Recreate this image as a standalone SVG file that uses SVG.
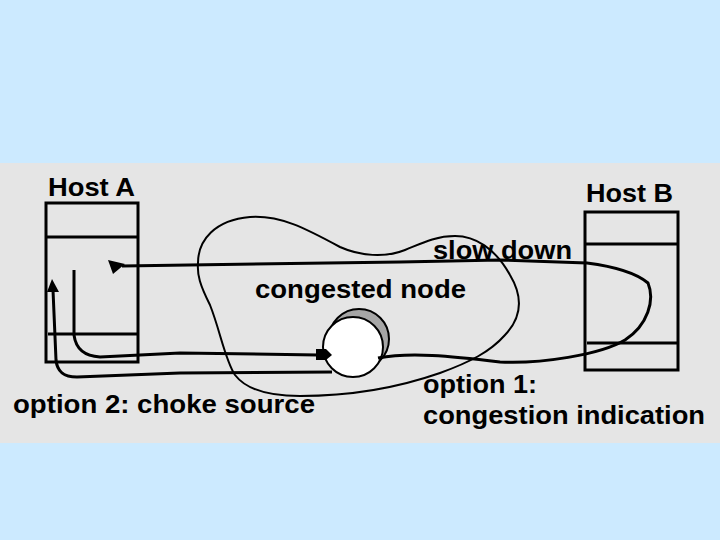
<svg xmlns="http://www.w3.org/2000/svg" width="720" height="540" viewBox="0 0 720 540">
<style>
.t{font-family:"Liberation Sans",Arial,sans-serif;font-weight:bold;font-size:25px;fill:#000}
.box{fill:none;stroke:#000;stroke-width:3}
.thin{fill:none;stroke:#000;stroke-width:2;stroke-linejoin:round}
.wire{fill:none;stroke:#000;stroke-width:3;stroke-linejoin:round}
</style>
<rect x="0" y="0" width="720" height="540" fill="#CCEAFF"/>
<rect x="0" y="163" width="720" height="280" fill="#E5E5E5"/>

<g id="cloud">
<path class="thin" d="M 198 263 C 198 240, 215 220, 250 217 C 280 215, 305 228, 340 247 C 360 256, 385 258, 405 250 C 420 244, 435 236, 455 236 C 475 236, 495 248, 510 275 C 522 295, 524 315, 505 335 C 490 352, 470 362, 440 373 C 400 387, 350 396, 300 396 C 265 396, 245 388, 235 375 C 225 360, 220 330, 210 305 C 200 285, 197 275, 198 263 Z"/>
</g>

<g id="hostA">
<rect class="box" x="46" y="203" width="92" height="159"/>
<line class="box" x1="46" y1="237" x2="138" y2="237"/>
<line class="box" x1="48" y1="334" x2="138" y2="334"/>
<text class="t" x="48" y="196" textLength="87" lengthAdjust="spacingAndGlyphs">Host A</text>
</g>

<g id="hostB">
<rect class="box" x="585" y="212" width="93" height="158"/>
<line class="box" x1="585" y1="244" x2="678" y2="244"/>
<line class="box" x1="587" y1="343" x2="678" y2="343"/>
<text class="t" x="586" y="202" textLength="87" lengthAdjust="spacingAndGlyphs">Host B</text>
</g>

<g id="congested-node">
<circle cx="359" cy="339" r="30" fill="#A6A6A6" stroke="#000" stroke-width="2"/>
<circle cx="353" cy="347" r="30" fill="#FFFFFF" stroke="#000" stroke-width="2"/>
<text class="t" x="255" y="298" textLength="211" lengthAdjust="spacingAndGlyphs">congested node</text>
</g>

<g id="connectors">
<path class="wire" d="M 378 358 C 410 352, 450 356, 500 362 C 540 364, 600 355, 625 340 C 648 325, 655 300, 648 283 C 635 272, 610 266, 587 263 L 500 260 L 400 262 L 122 266"/>
<polygon points="108,260 125,264 113,274" fill="#000"/>
<path class="wire" d="M 74 270 L 74 335 C 76 350, 85 356, 100 357 L 180 353 L 318 355"/>
<polygon points="316,349 326,349 332,355 326,360 316,360" fill="#000"/>
<path class="wire" d="M 332 372 L 180 373 L 77 377 C 62 377, 57 370, 56 360 L 53 290"/>
<polygon points="52,279 59,292 47,292" fill="#000"/>
</g>

<g id="labels">
<text class="t" x="433" y="259" textLength="139" lengthAdjust="spacingAndGlyphs">slow down</text>
<text class="t" x="13" y="413" textLength="302" lengthAdjust="spacingAndGlyphs">option 2: choke source</text>
<text class="t" x="423" y="393" textLength="114" lengthAdjust="spacingAndGlyphs">option 1:</text>
<text class="t" x="423" y="424" textLength="282" lengthAdjust="spacingAndGlyphs">congestion indication</text>
</g>
</svg>
